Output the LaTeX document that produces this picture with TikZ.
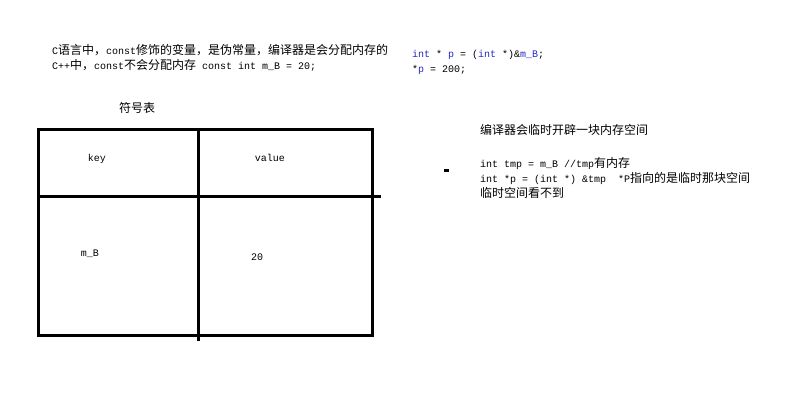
\documentclass[tikz,border=0pt]{standalone}
\usepackage{fontspec}
\setmainfont{Liberation Mono}
\newfontfamily\cjk{Noto Sans CJK SC}
\newfontfamily\codefont{Liberation Mono}
\definecolor{kwblue}{RGB}{40,40,200}
\begin{document}
\begin{tikzpicture}[x=1pt,y=-1pt,
  txt/.style={inner sep=0pt, anchor=base west, font=\codefont\fontsize{10}{12}\selectfont},
  lbl/.style={inner sep=0pt, anchor=base, font=\codefont\fontsize{10}{12}\selectfont},
  tblline/.style={line width=3pt, black}]
\useasboundingbox (0,0) rectangle (809,400);
\fill[white] (0,0) rectangle (809,400);
% texts top-left
\node[txt] (t1) at (52,54.5) {C{\cjk\fontsize{12}{12}\selectfont 语言中，}const{\cjk\fontsize{12}{12}\selectfont 修饰的变量，是伪常量，编译器是会分配内存的}};
\node[txt] (t2) at (52,69.5) {C++{\cjk\fontsize{12}{12}\selectfont 中，}const{\cjk\fontsize{12}{12}\selectfont 不会分配内存}\ const\ int\ m\_B\ =\ 20;};
% code top-right
\node[txt] (c1) at (412,57.5) {\textcolor{kwblue}{int}\ *\ \textcolor{kwblue}{p}\ =\ (\textcolor{kwblue}{int}\ *)\&\textcolor{kwblue}{m\_B};};
\node[txt] (c2) at (412,72.5) {*\textcolor{kwblue}{p}\ =\ 200;};
% title
\node[inner sep=0pt, font=\cjk\fontsize{12}{12}\selectfont] (title) at (137,108) {符号表};
% table
\draw[tblline] (38,129) rectangle (372,335.5);
\draw[tblline] (198,131) -- (198,341);
\draw[tblline] (38,196) -- (381,196);
\node[lbl] (key) at (97,161.5) {key};
\node[lbl] (val) at (270,161.5) {value};
\node[lbl] (mb) at (90,256.5) {m\_B};
\node[lbl] (twenty) at (257,260.5) {20};
% right texts
\node[txt] (r1) at (480,134.5) {\cjk\fontsize{12}{12}\selectfont 编译器会临时开辟一块内存空间};
\node[txt] (r2) at (480,167.5) {int\ tmp\ =\ m\_B\ //tmp{\cjk\fontsize{12}{12}\selectfont 有内存}};
\node[txt] (r3) at (480,182.5) {int\ *p\ =\ (int\ *)\ \&tmp\ \ *P{\cjk\fontsize{12}{12}\selectfont 指向的是临时那块空间}};
\node[txt] (r4) at (480,197.5) {\cjk\fontsize{12}{12}\selectfont 临时空间看不到};
% dot
\fill[black] (444,168.5) rectangle (449,171.5);
\end{tikzpicture}
\end{document}
